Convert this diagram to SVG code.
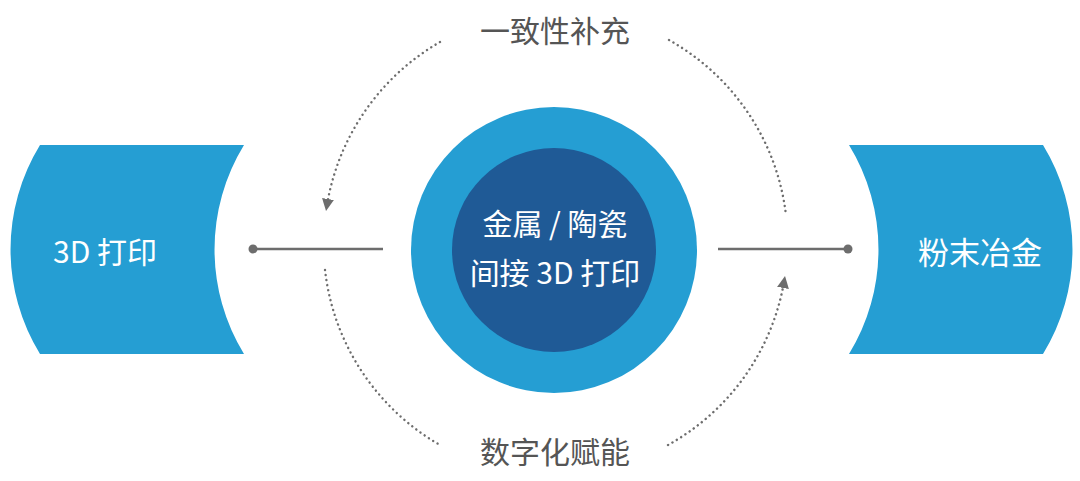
<svg xmlns="http://www.w3.org/2000/svg" width="1080" height="481" viewBox="0 0 1080 481">
<style>
.blk{fill:#259ed3}
.t{font-family:"Noto Sans CJK SC","Noto Sans",sans-serif;fill:#fff;text-anchor:middle;dominant-baseline:central}
.g{font-family:"Noto Sans CJK SC",sans-serif;fill:#555;font-size:30px;text-anchor:middle;dominant-baseline:central}
.dot{fill:none;stroke:#6d6d6d;stroke-width:2.4;stroke-dasharray:0.1 5;stroke-linecap:round}
.ln{stroke:#6d6d6d;stroke-width:2.5}
</style>
<defs>
<marker id="ah" viewBox="0 0 10 10" refX="5" refY="5" markerWidth="5" markerHeight="5" orient="auto"><path d="M0,0L10,5L0,10z" fill="#6d6d6d"/></marker>
</defs>
<rect width="1080" height="481" fill="#fff"/>
<g id="conn">
<path class="dot" d="M440,42 A232,232 0 0 0 327,205" marker-end="url(#ah)"/>
<path class="dot" d="M669,40 A232,232 0 0 1 786,215"/>
<path class="dot" d="M325,270 A232,232 0 0 0 440,445"/>
<path class="dot" d="M668,445 A232,232 0 0 0 784,282" marker-end="url(#ah)"/>
<line class="ln" x1="253" y1="249" x2="383" y2="249"/>
<circle cx="253" cy="249" r="4.5" fill="#6d6d6d"/>
<line class="ln" x1="718" y1="249" x2="848" y2="249"/>
<circle cx="848" cy="249" r="4.5" fill="#6d6d6d"/>
</g>
<g id="left">
<path class="blk" d="M40,145 L244,145 A200,200 0 0 0 244,354 L40,354 A200,200 0 0 1 40,145z"/>
<text class="t" x="105" y="250" font-size="30">3D 打印</text>
</g>
<g id="right">
<path class="blk" d="M849,145 L1043,145 A200,200 0 0 1 1043,354 L849,354 A200,200 0 0 0 849,145z"/>
<text class="t" x="980" y="250" font-size="31">粉末冶金</text>
</g>
<g id="center">
<circle cx="554" cy="250" r="143" fill="#259ed3"/>
<circle cx="554" cy="250" r="102" fill="#1f5a96"/>
<text class="t" x="555" y="222" font-size="30">金属 / 陶瓷</text>
<text class="t" x="555" y="271" font-size="30">间接 3D 打印</text>
</g>
<g id="top"><text class="g" x="555" y="29">一致性补充</text></g>
<g id="bottom"><text class="g" x="555" y="450">数字化赋能</text></g>
</svg>
